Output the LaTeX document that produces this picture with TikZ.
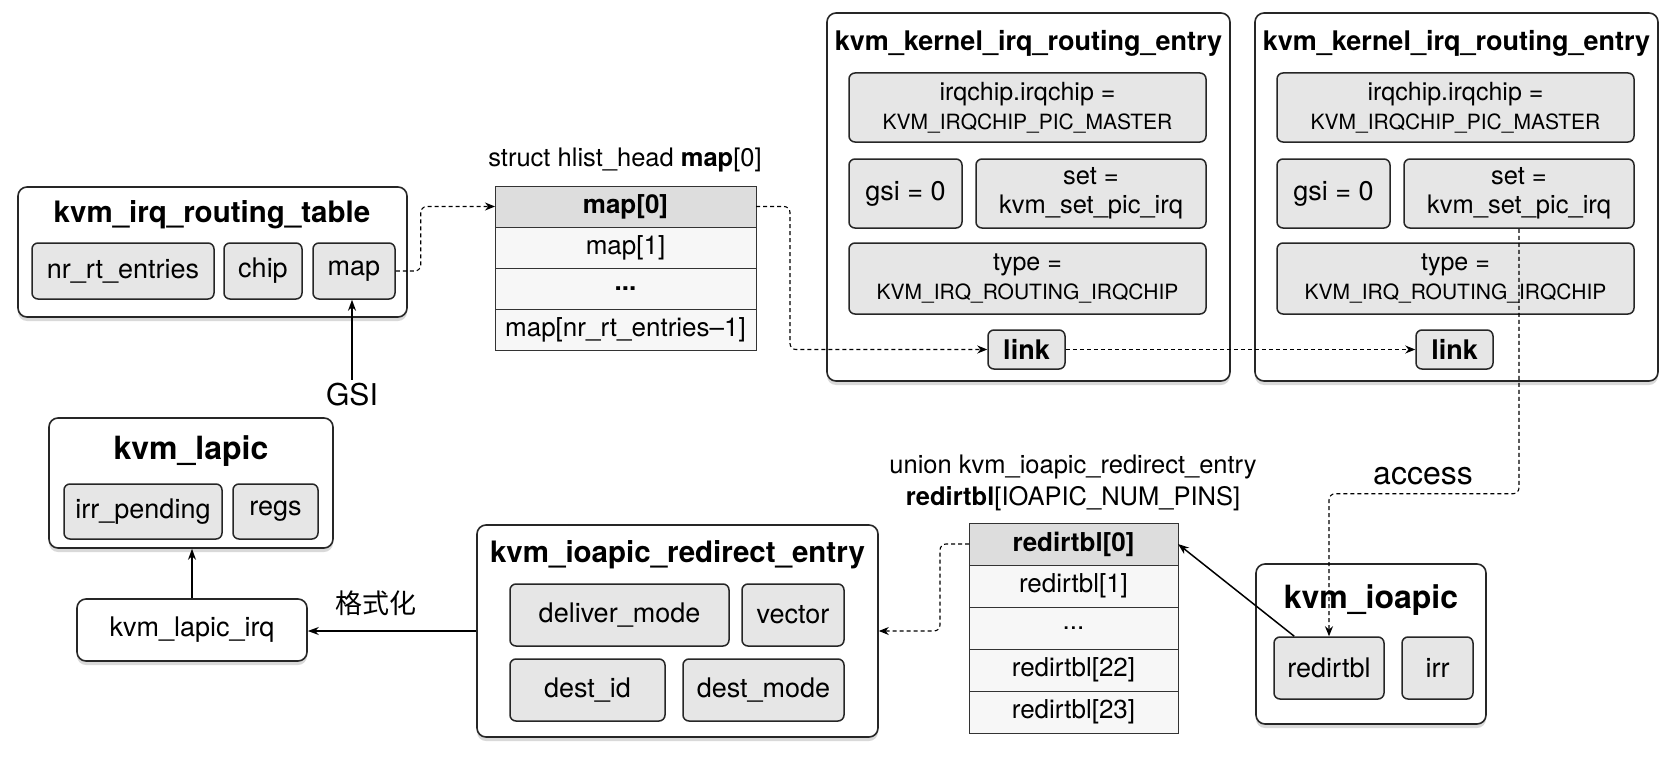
\documentclass[tikz,border=0pt]{standalone}
\usepackage{fontspec}
\setmainfont{TeX Gyre Heros}
\newfontfamily\cjkfont{Noto Sans CJK SC}
\usetikzlibrary{positioning,calc,shadows,arrows.meta}
\definecolor{fieldgray}{HTML}{E6E6E6}
\definecolor{headgray}{HTML}{DDDDDD}
\definecolor{cellgray}{HTML}{F7F7F7}

\begin{document}
\begin{tikzpicture}[
    x=1pt, y=1pt,
    node distance=0pt,
    wh/.style 2 args={minimum width=#1pt, minimum height=#2pt},
    struct/.style={rectangle, draw=black!85, line width=1.6pt, rounded corners=9pt, fill=white,
        drop shadow={shadow xshift=0pt, shadow yshift=-4pt, opacity=0.3}},
    field/.style={rectangle, draw=black!85, line width=1.5pt, rounded corners=6pt, fill=fieldgray,
        align=center, inner sep=0pt, font=\fontsize{27}{29}\selectfont},
    title/.style={font=\fontsize{29.5}{32}\selectfont\bfseries},
    cell/.style={rectangle, draw=black!80, line width=0.9pt, fill=cellgray, outer sep=0pt,
        inner sep=0pt, font=\fontsize{26}{28}\selectfont},
    caption/.style={align=center, font=\fontsize{25.5}{32}\selectfont},
    arrow/.style={-{Stealth[length=11pt,width=8pt]}, line width=1.5pt},
    ptr/.style={-{Stealth[length=10pt,width=8pt]}, line width=1.1pt, dash pattern=on 4pt off 3pt, rounded corners=6pt}
]
    \useasboundingbox (0,0) rectangle (1674,-760);

    % routing table
    \node[struct, wh={389}{130}] (rtable) at (212.5,-252) {};
    \node[title] (rtabletitle) at (212,-215) {kvm\_irq\_routing\_table};
    \node[field, wh={182}{56}] (nrrt) at (123,-271) {nr\_rt\_entries};
    \node[field, wh={78}{56}] (chip) at (263,-271) {chip};
    \node[field, wh={82}{56}] (map) at (354,-271) {map};
    \node[font=\fontsize{30}{32}\selectfont] (gsi) at (352,-395) {GSI};

    % hlist heads
    \node[caption] (maplabel) at (625,-160) {struct hlist\_head \textbf{map}[0]};
    \node[cell, wh={261}{41}, fill=headgray, font=\fontsize{26}{28}\selectfont\bfseries] (map0) at (625.5,-206.5) {map[0]};
    \node[cell, wh={261}{41}, below=of map0] (map1) {map[1]};
    \node[cell, wh={261}{41}, below=of map1] (mapdots) {\textbf{...}};
    \node[cell, wh={261}{41}, below=of mapdots] (mapn) {map[nr\_rt\_entries--1]};

    % routing entries
    \foreach \i/\dx in {1/0, 2/428} {
        \node[struct, wh={403}{368}] (entry\i) at (1028.5+\dx,-197) {};
        \node[title, font=\fontsize{27}{32}\selectfont\bfseries] (entrytitle\i) at (1028.5+\dx,-43) {kvm\_kernel\_irq\_routing\_entry};
        \node[field, wh={357}{69}] (irqchip\i) at (1027.5+\dx,-107.5)
            {\fontsize{25}{29}\selectfont irqchip.irqchip =\\\fontsize{21}{29}\selectfont KVM\_IRQCHIP\_PIC\_MASTER};
        \node[field, wh={113}{69}] (gsival\i) at (905.5+\dx,-193.5) {gsi = 0};
        \node[field, wh={230}{69}, font=\fontsize{25.5}{29}\selectfont] (set\i) at (1091+\dx,-193.5) {set =\\kvm\_set\_pic\_irq};
        \node[field, wh={357}{71}] (type\i) at (1027.5+\dx,-278.5)
            {\fontsize{25}{29}\selectfont type =\\\fontsize{21}{29}\selectfont KVM\_IRQ\_ROUTING\_IRQCHIP};
        \node[field, wh={77}{39}, font=\fontsize{27}{29}\selectfont\bfseries] (link\i) at (1026.5+\dx,-349.5) {link};
    }

    % lapic
    \node[struct, wh={284}{130}] (lapic) at (191,-483) {};
    \node[title, font=\fontsize{32}{34}\selectfont\bfseries] (lapictitle) at (191,-451) {kvm\_lapic};
    \node[field, wh={158}{55}] (irrpend) at (143,-511.5) {irr\_pending};
    \node[field, wh={85}{55}] (regs) at (275.5,-511.5) {regs};
    \node[struct, wh={230}{62}, font=\fontsize{27}{29}\selectfont] (lapicirq) at (192,-630) {kvm\_lapic\_irq};
    \node[font=\fontsize{27}{30}\selectfont\cjkfont] (fmt) at (376,-603) {格式化};

    % redirect entry
    \node[struct, wh={401}{212}] (ioentry) at (677.5,-631) {};
    \node[title] (ioentrytitle) at (677.5,-555) {kvm\_ioapic\_redirect\_entry};
    \node[field, wh={219}{62}] (delmode) at (619.5,-615) {deliver\_mode};
    \node[field, wh={102}{62}] (vector) at (793,-615) {vector};
    \node[field, wh={155}{62}] (destid) at (587.5,-690) {dest\_id};
    \node[field, wh={161}{62}] (destmode) at (763.5,-690) {dest\_mode};

    % redirection table
    \node[caption] (rtlabel) at (1073,-483) {union kvm\_ioapic\_redirect\_entry\\\textbf{redirtbl}[IOAPIC\_NUM\_PINS]};
    \node[cell, wh={209}{42}, fill=headgray, font=\fontsize{26}{28}\selectfont\bfseries] (rt0) at (1073.5,-544) {redirtbl[0]};
    \node[cell, wh={209}{42}, below=of rt0] (rt1) {redirtbl[1]};
    \node[cell, wh={209}{42}, below=of rt1] (rtdots) {...};
    \node[cell, wh={209}{42}, below=of rtdots] (rt22) {redirtbl[22]};
    \node[cell, wh={209}{42}, below=of rt22] (rt23) {redirtbl[23]};

    % ioapic
    \node[struct, wh={230}{160}] (ioapic) at (1371,-644) {};
    \node[title, font=\fontsize{32}{34}\selectfont\bfseries] (ioapictitle) at (1371,-600) {kvm\_ioapic};
    \node[field, wh={110}{62}] (iored) at (1329,-668) {redirtbl};
    \node[field, wh={71}{62}] (irr) at (1437.5,-668) {irr};
    \node[font=\fontsize{32}{34}\selectfont] (access) at (1423,-476) {access};

    \draw[arrow] (gsi.north) -- (gsi.north |- map.south);
    \draw[ptr] (map.east) -- ++(25,0) |- (map0.west);
    \draw[ptr] (map0.east) -- ++(34,0) |- (link1.west);
    \draw[ptr] (link1.east) -- (link2.west);
    \draw[ptr] (set2.south) -- ++(0,-265) -| (iored.north);
    \draw[arrow] ([xshift=21pt]iored.north west) -- (rt0.east);
    \draw[ptr] (rt0.west) -- ++(-29,0) |- (ioentry.east);
    \draw[arrow] (ioentry.west) -- (ioentry.west -| lapicirq.east);
    \draw[arrow] (lapicirq.north) -- (lapicirq.north |- lapic.south);
\end{tikzpicture}
\end{document}
